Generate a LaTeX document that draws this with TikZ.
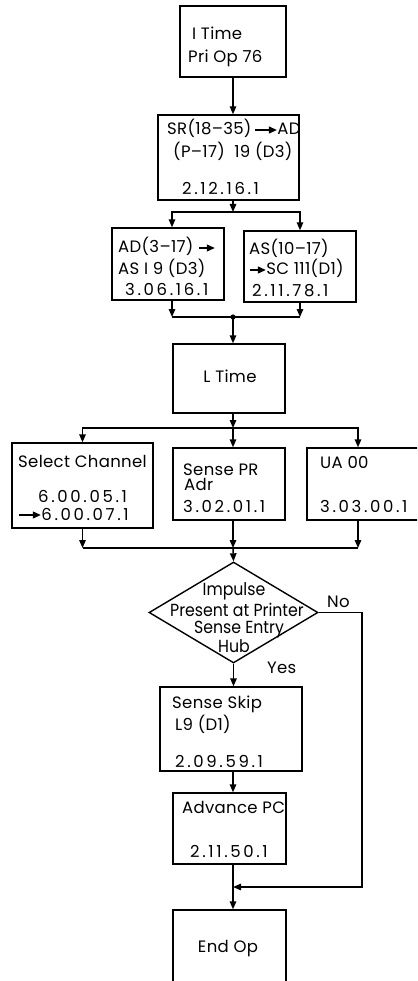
\documentclass[tikz,border=0pt]{standalone}
\usepackage{fontspec}
\setmainfont{Poppins}[LetterSpace=2]
\newfontfamily\numfont{Poppins}[LetterSpace=16]
\newfontfamily\condfont{Poppins}[FakeStretch=0.9]
\usetikzlibrary{arrows.meta,shapes.geometric}

% small arrow used inside the box texts
\newcommand\txtarrow[1][16]{\tikz[baseline={(0,-5pt)},x=1pt,y=1pt]\draw[line width=1.2pt,-{Triangle[length=8pt,width=7pt]}](0,0)--(#1,0);}

\begin{document}
\begin{tikzpicture}[x=1pt,y=-1pt,
  box/.style={draw, line width=1.4pt, inner sep=0pt},
  dia/.style={draw, diamond, line width=1.4pt, inner sep=0pt},
  txt/.style={anchor=base west, inner sep=0pt, font=\fontsize{16.5}{19}\selectfont},
  ntxt/.style={txt, font=\fontsize{16.5}{19}\numfont},
  ctxt/.style={txt, anchor=base},
  dtxt/.style={ctxt, font=\fontsize{17.5}{19}\condfont},
  flow/.style={-{Triangle[length=8pt,width=6.5pt]}, line width=1.4pt},
  link/.style={line width=1.4pt},
]
\useasboundingbox (0,0) rectangle (417,981);
\clip (0,0) rectangle (417,981);

% main vertical line and branch columns
\coordinate (spine) at (233,0);
\coordinate (uax) at (358,0);
\coordinate (noX) at (362,0);

% boxes
\node[box, minimum width=106, minimum height=71] (b1) at (233,41.5) {};
\node[box, minimum width=141, minimum height=85] (b2) at (228.5,157.5) {};
\node[box, minimum width=112, minimum height=72] (b3) at (168,264) {};
\node[box, minimum width=112, minimum height=71] (b4) at (300,266.5) {};
\node[box, minimum width=112, minimum height=69] (lt) at (229,378.5) {};
\node[box, minimum width=141, minimum height=85] (sel) at (82.5,485.5) {};
\node[box, minimum width=112, minimum height=72] (spr) at (229,484) {};
\node[box, minimum width=133, minimum height=72] (ua) at (373.5,484) {};
\node[dia, minimum width=169, minimum height=101] (dec) at (233.5,612.5) {};
\node[box, minimum width=142, minimum height=84] (ss) at (231,729) {};
\node[box, minimum width=113, minimum height=71] (ap) at (229.5,828.5) {};
\node[box, minimum width=113, minimum height=90] (eo) at (229.5,955) {};

% texts
\node[txt] (b1a) at (192,40) {I Time};
\node[txt] (b1b) at (188,63) {Pri Op 76};
\node[txt] (b2a) at (167,135) {SR(18–35)\,\txtarrow[22]AD};
\node[txt] (b2b) at (173,158) {(P–17)\ \ 19 (D3)};
\node[ntxt] (b2c) at (182,195) {2.12.16.1};
\node[txt] (b3a) at (118,253) {AD(3–17) \txtarrow};
\node[txt] (b3b) at (118,275) {AS I 9 (D3)};
\node[ntxt] (b3c) at (125,295) {3.06.16.1};
\node[txt] (b4a) at (249,255) {AS(10–17)};
\node[txt] (b4b) at (249,275) {\txtarrow SC 111(D1)};
\node[ntxt] (b4c) at (252,296) {2.11.78.1};
\node[ctxt] (lta) at (230,382) {L Time};
\node[txt] (sela) at (18,467) {Select Channel};
\node[ntxt] (selb) at (38,502) {6.00.05.1};
\node[ntxt] (selc) at (18,520) {\txtarrow[22]6.00.07.1};
\node[txt] (spra) at (183,475) {Sense PR};
\node[txt] (sprb) at (184,490) {Adr};
\node[ntxt] (sprc) at (183,512) {3.02.01.1};
\node[txt] (uaa) at (320,468) {UA 00};
\node[ntxt] (uab) at (320,512) {3.03.00.1};
\node[dtxt] (deca) at (234,595) {Impulse};
\node[dtxt] (decb) at (237,616) {Present at Printer};
\node[dtxt] (decc) at (239,633) {Sense Entry};
\node[dtxt] (decd) at (234,652) {Hub};
\node[txt] (no) at (327,607) {No};
\node[txt] (yes) at (267,673) {Yes};
\node[txt] (ssa) at (172,708) {Sense Skip};
\node[txt] (ssb) at (175,730) {L9 (D1)};
\node[ntxt] (ssc) at (175,767) {2.09.59.1};
\node[txt] (apa) at (182,813) {Advance PC};
\node[ntxt] (apb) at (190,857) {2.11.50.1};
\node[ctxt] (eoa) at (228,952) {End Op};

% junction points
\coordinate (split) at (233,212);
\coordinate (join) at (233,317);
\coordinate (fork) at (233,428);
\coordinate (merge) at (233,548);
\coordinate (back) at (233,887);

% connectors
\draw[flow] (b1.south -| spine) -- (b2.north -| spine);
\draw[flow] (b2.south -| spine) -- (split);
\draw[flow] (split) -| ([xshift=4pt]b3.north);
\draw[flow] (split) -| (b4.north);
\draw[flow] ([xshift=4pt]b3.south) -- ([xshift=4pt]b3.south |- join);
\draw[flow] (b4.south) -- (b4.south |- join);
\draw[link] ([xshift=4pt]b3.south |- join) -- (b4.south |- join);
\fill (join) circle (2.6pt);
\draw[flow] (join) -- (lt.north -| join);

\draw[flow] (lt.south -| fork) -- (fork);
\draw[flow] (fork) -| (sel.north);
\draw[flow] (fork) -| (uax |- ua.north);
\draw[flow] (fork) -- (spr.north -| fork);

\draw[flow] (sel.south) -- (sel.south |- merge);
\draw[flow] (spr.south -| merge) -- (merge);
\draw[flow] (uax |- ua.south) -- (uax |- merge);
\draw[link] (sel.south |- merge) -- (uax |- merge);
\draw[flow] (merge) -- (dec.north);

\draw[flow] (dec.south) -- (ss.north -| dec.south);
\draw[flow] (dec.east) -- (dec.east -| noX) |- (back);
\draw[flow] (ss.south -| spine) -- (ap.north -| spine);
\draw[flow] (ap.south -| spine) -- (eo.north -| spine);
\end{tikzpicture}
\end{document}
